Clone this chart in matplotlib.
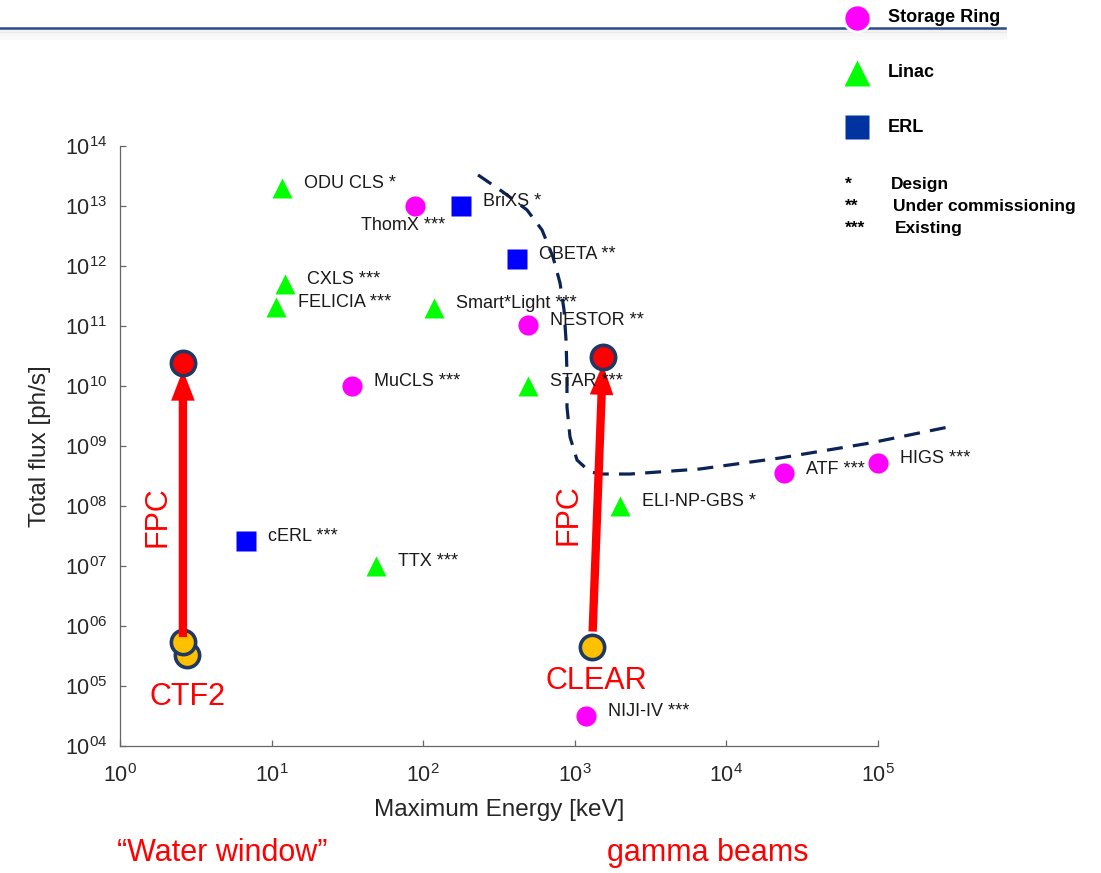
import numpy as np
import matplotlib
matplotlib.use("Agg")
import matplotlib.pyplot as plt
from matplotlib.lines import Line2D
from matplotlib.ticker import FixedLocator, FuncFormatter, NullLocator

plt.rcParams['font.family'] = ['Liberation Sans', 'DejaVu Sans']
plt.rcParams['mathtext.fontset'] = 'custom'
plt.rcParams['mathtext.rm'] = 'Liberation Sans'
plt.rcParams['mathtext.it'] = 'Liberation Sans:italic'

# sources (energy in keV, flux in ph/s)
ring_names = ['ThomX ***', 'NESTOR **', 'MuCLS ***', 'HIGS ***', 'ATF ***', 'NIJI-IV ***']
ring_energy = [88, 490, 34, 1.0e5, 2.4e4, 1190]
ring_flux = [1.0e13, 1.04e11, 1.0e10, 5.2e8, 3.5e8, 3.2e4]

linac_names = ['ODU CLS *', 'CXLS ***', 'FELICIA ***', 'Smart*Light ***', 'STAR ***',
               'ELI-NP-GBS *', 'TTX ***']
linac_energy = [11.7, 12.3, 10.7, 118, 491, 1990, 49]
linac_flux = [2.0e13, 5.0e11, 2.07e11, 2.0e11, 1.0e10, 1.0e8, 1.0e7]

erl_names = ['BriXS *', 'CBETA **', 'cERL ***']
erl_energy = [177, 416, 6.8]
erl_flux = [1.0e13, 1.3e12, 2.6e7]

# FPC upgrade: start (existing facility) -> end (with FPC)
fpc_names = ['CTF2', 'CLEAR']
fpc_start_energy = [2.6, 1300]
fpc_start_flux = [5.4e5, 4.5e5]
fpc_end_energy = [2.6, 1535]
fpc_end_flux = [2.4e10, 3.0e10]
ctf2_extra_energy = [2.77]
ctf2_extra_flux = [3.3e5]

# dashed boundary
boundary_energy = [230, 336, 484, 608, 718, 799, 849, 875, 888, 888, 930, 1034,
                   1260, 1535, 2313, 6695, 22570, 88560, 312500]
boundary_flux = [3.29e13, 1.71e13, 8.58e12, 3.98e12, 1.41e12, 5.21e11, 1.85e11,
                 5.84e10, 1.65e10, 4.47e9, 1.41e9, 5.84e8, 3.69e8, 3.41e8, 3.41e8,
                 4.14e8, 6.31e8, 1.12e9, 2.15e9]

legend_labels = ['Storage Ring', 'Linac', 'ERL']
status_marks = ['*', '**', '***']
status_labels = ['Design', 'Under commissioning', 'Existing']

x_decades = [0, 1, 2, 3, 4, 5]
y_decades = [4, 5, 6, 7, 8, 9, 10, 11, 12, 13, 14]

MAGENTA = '#FF00FF'
GREEN = '#00FF00'
BLUE = '#0000FF'
NAVY = '#1F3864'
RED = '#FF0000'
ORANGE = '#FFC000'

fig = plt.figure(figsize=(11.01, 8.73), dpi=100)
ax = fig.add_axes([0.10899, 0.14548, 0.68847, 0.68729])
ax.set_xscale('log')
ax.set_yscale('log')
ax.set_xlim(1, 1e5)
ax.set_ylim(1e4, 1e14)

ax.plot(boundary_energy, boundary_flux, color='#0B2355', lw=2.3, dashes=(5, 3.2),
        clip_on=False, zorder=2)

ax.plot(ring_energy, ring_flux, 'o', ms=14.5, color=MAGENTA, mec='none', clip_on=False, zorder=3)
ax.plot(linac_energy, linac_flux, '^', ms=15, color=GREEN, mec='none', clip_on=False, zorder=3)
ax.plot(erl_energy, erl_flux, 's', ms=14.5, color=BLUE, mec='none', clip_on=False, zorder=3)

for names, xs, ys in [(ring_names, ring_energy, ring_flux),
                      (linac_names, linac_energy, linac_flux),
                      (erl_names, erl_energy, erl_flux)]:
    for n, x, y in zip(names, xs, ys):
        off = (16, 3)
        if n.startswith('ThomX'):
            off = (-39, -14)
        ax.annotate(n, (x, y), xytext=off, textcoords='offset points',
                    fontsize=13, color='#1a1a1a', va='center', ha='left', zorder=6)

# FPC points and arrows
ax.plot(ctf2_extra_energy, ctf2_extra_flux, 'o', ms=17.5, color=ORANGE, mec=NAVY,
        mew=2.6, zorder=4)
ax.plot(fpc_start_energy, fpc_start_flux, 'o', ms=17.5, color=ORANGE, mec=NAVY,
        mew=2.6, zorder=4)
shrink_a = [3.6, 11]
for i in range(len(fpc_names)):
    ax.annotate('', xy=(fpc_end_energy[i], fpc_end_flux[i]),
                xytext=(fpc_start_energy[i], fpc_start_flux[i]),
                arrowprops=dict(arrowstyle='simple,head_length=2.2,head_width=1.7,tail_width=0.6',
                                mutation_scale=10, color=RED, lw=0,
                                shrinkA=shrink_a[i], shrinkB=5),
                zorder=5)
ax.plot(fpc_end_energy, fpc_end_flux, 'o', ms=17.5, color=RED, mec=NAVY,
        mew=2.6, zorder=6)

ax.text(0.050, 0.382, 'FPC', transform=ax.transAxes, rotation=90, color=RED,
        fontsize=22, ha='center', va='center')
ax.text(0.592, 0.385, 'FPC', transform=ax.transAxes, rotation=90, color=RED,
        fontsize=22, ha='center', va='center')
ax.text(0.0884, 0.0817, fpc_names[0], transform=ax.transAxes, color=RED,
        fontsize=22, ha='center', va='center')
ax.text(0.629, 0.108, fpc_names[1], transform=ax.transAxes, color=RED,
        fontsize=22, ha='center', va='center')

# axes styling
for side in ['top', 'right']:
    ax.spines[side].set_visible(False)
for side in ['left', 'bottom']:
    ax.spines[side].set_color('#666666')
    ax.spines[side].set_linewidth(0.9)
ax.xaxis.set_major_locator(FixedLocator([10.0 ** d for d in x_decades]))
ax.yaxis.set_major_locator(FixedLocator([10.0 ** d for d in y_decades]))
ax.xaxis.set_minor_locator(NullLocator())
ax.yaxis.set_minor_locator(NullLocator())
ax.xaxis.set_major_formatter(FuncFormatter(lambda v, p: r'$10^{%d}$' % round(np.log10(v))))
ax.yaxis.set_major_formatter(FuncFormatter(lambda v, p: r'$10^{%02d}$' % round(np.log10(v))))
ax.tick_params(direction='in', length=4.5, width=0.9, color='#666666',
               labelsize=15.5, labelcolor='#262626')
ax.tick_params(axis='x', pad=13)
ax.tick_params(axis='y', pad=9)
ax.set_xlabel('Maximum Energy [keV]', fontsize=17.5, color='#262626', labelpad=9)
ax.set_ylabel('Total flux [ph/s]', fontsize=17.5, color='#262626', labelpad=10)

# captions under the plot
fig.text(0.2016, 0.0229, '\u201cWater window\u201d', color=RED, fontsize=22,
         ha='center', va='center')
fig.text(0.643, 0.0229, 'gamma beams', color=RED, fontsize=22, ha='center', va='center')

# header rule with soft shadow
for k, a in enumerate([0.10, 0.07, 0.04]):
    fig.add_artist(Line2D([0, 0.913], [0.9640 - k * 0.0035] * 2, color='#808080',
                          lw=3, alpha=a, transform=fig.transFigure))
fig.add_artist(Line2D([0, 0.913], [0.9679, 0.9679], color='#2F4A8A', lw=1.8,
                      transform=fig.transFigure))

# legend
leg_x = 0.7784
leg_y = [0.9794, 0.9164, 0.8545]
leg_style = [dict(marker='o', ms=19.5, color=MAGENTA, mec='white', mew=2.0),
             dict(marker='^', ms=19, color=GREEN, mec='none'),
             dict(marker='s', ms=17.5, color='#0033A0', mec='none')]
for lab, y, st in zip(legend_labels, leg_y, leg_style):
    fig.add_artist(Line2D([leg_x], [y], transform=fig.transFigure, ls='none', **st))
    fig.text(0.8065, y, lab, fontsize=13, fontweight='bold', color='black',
             ha='left', va='center')

status_y = [0.7890, 0.7640, 0.7380]
status_tx = [0.8093, 0.8111, 0.8129]
for m, lab, y, tx in zip(status_marks, status_labels, status_y, status_tx):
    fig.text(0.7675, y, m, fontsize=12.5, fontweight='bold', ha='left', va='center')
    fig.text(tx, y, lab, fontsize=12.5, fontweight='bold', ha='left', va='center')

fig.savefig('out.png', dpi=100)
